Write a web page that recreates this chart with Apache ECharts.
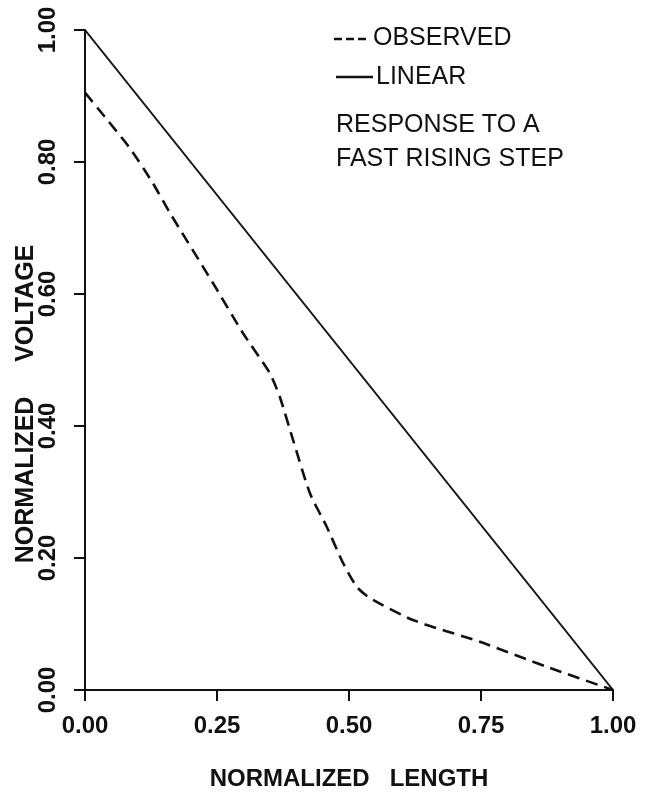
<!DOCTYPE html>
<html>
<head>
<meta charset="utf-8">
<script src="https://cdn.jsdelivr.net/npm/echarts@6/dist/echarts.min.js"></script>
<style>
html,body{margin:0;padding:0;background:#fff;}
#chart{width:653px;height:797px;}
</style>
</head>
<body>
<div id="chart"></div>
<script>
// Data
var observedX = [0.000, 0.038, 0.085, 0.127, 0.160, 0.242, 0.299, 0.350, 0.369, 0.394, 0.426, 0.458, 0.489, 0.515, 0.540, 0.621, 0.748, 0.875, 1.000];
var observedY = [0.905, 0.868, 0.821, 0.770, 0.724, 0.617, 0.541, 0.480, 0.444, 0.379, 0.298, 0.247, 0.192, 0.156, 0.139, 0.106, 0.073, 0.035, 0.000];
var linearX = [0.00, 1.00];
var linearY = [1.00, 0.00];
var xTickLabels = ['0.00', '0.25', '0.50', '0.75', '1.00'];
var yTickLabels = ['0.00', '0.20', '0.40', '0.60', '0.80', '1.00'];
var legendTexts = ['OBSERVED', 'LINEAR'];
var noteLines = ['RESPONSE TO A', 'FAST RISING STEP'];
var xTitle = 'NORMALIZED   LENGTH';
var yTitle = 'NORMALIZED     VOLTAGE';

function zip(a, b) { return a.map(function (v, i) { return [v, b[i]]; }); }

var chart = echarts.init(document.getElementById('chart'), null, {renderer: 'canvas'});
var FONT = '"Liberation Sans", Arial, sans-serif';
var INK = '#111';

var option = {
  backgroundColor: '#fff',
  animation: false,
  grid: {left: 85, right: 40, top: 30, bottom: 107, containLabel: false},
  xAxis: {
    type: 'value', min: 0, max: 1, interval: 0.25,
    name: xTitle, nameLocation: 'middle', nameGap: 77,
    nameTextStyle: {fontFamily: FONT, fontWeight: 'bold', fontSize: 24, color: INK},
    axisLine: {show: true, onZero: false, lineStyle: {color: INK, width: 2}},
    axisTick: {show: true, inside: false, length: 11, lineStyle: {color: INK, width: 2}},
    axisLabel: {
      margin: 24, fontFamily: FONT, fontWeight: 'bold', fontSize: 24, color: INK,
      formatter: function (v) { return xTickLabels[Math.round(v / 0.25)]; }
    },
    splitLine: {show: false}
  },
  yAxis: {
    type: 'value', min: 0, max: 1, interval: 0.2,
    axisLine: {show: true, onZero: false, lineStyle: {color: INK, width: 2}},
    axisTick: {show: true, inside: false, length: 11, lineStyle: {color: INK, width: 2}},
    axisLabel: {
      rotate: 90, margin: 25, fontFamily: FONT, fontWeight: 'bold', fontSize: 24, color: INK,
      formatter: function (v) { return yTickLabels[Math.round(v / 0.2)]; }
    },
    splitLine: {show: false}
  },
  series: [
    {
      name: legendTexts[0], type: 'line', data: zip(observedX, observedY),
      showSymbol: false, smooth: 0.2,
      lineStyle: {color: INK, width: 2.6, type: [12, 7]}
    },
    {
      name: legendTexts[1], type: 'line', data: zip(linearX, linearY),
      showSymbol: false,
      lineStyle: {color: INK, width: 2}
    }
  ],
  graphic: [
    {type: 'text', x: 26, y: 404, rotation: Math.PI / 2, style: {
      text: yTitle, fontFamily: FONT, fontWeight: 'bold', fontSize: 25, fill: INK,
      textAlign: 'center', textVerticalAlign: 'middle'}},
    {type: 'line', shape: {x1: 334, y1: 39, x2: 370, y2: 39}, style: {stroke: INK, lineWidth: 2.5, lineDash: [8, 4]}},
    {type: 'text', x: 373, y: 38, style: {text: legendTexts[0], fontFamily: FONT, fontSize: 25, fill: INK, textVerticalAlign: 'middle'}},
    {type: 'line', shape: {x1: 336, y1: 77, x2: 373, y2: 77}, style: {stroke: INK, lineWidth: 2.5}},
    {type: 'text', x: 376, y: 77, style: {text: legendTexts[1], fontFamily: FONT, fontSize: 25, fill: INK, textVerticalAlign: 'middle'}},
    {type: 'text', x: 336, y: 125, style: {text: noteLines[0], fontFamily: FONT, fontSize: 25, fill: INK, textVerticalAlign: 'middle'}},
    {type: 'text', x: 336, y: 159, style: {text: noteLines[1], fontFamily: FONT, fontSize: 25, fill: INK, textVerticalAlign: 'middle'}}
  ]
};
chart.setOption(option);
</script>
</body>
</html>
